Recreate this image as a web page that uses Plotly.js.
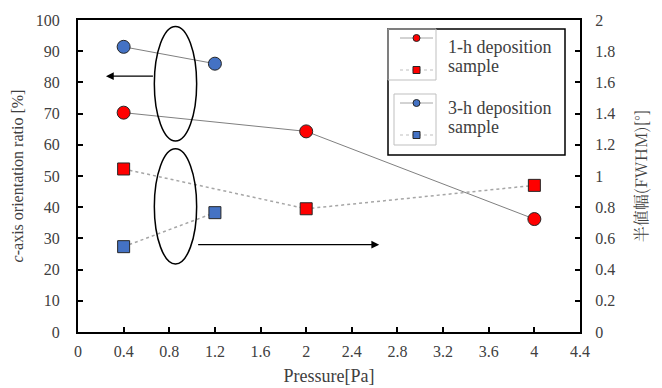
<!DOCTYPE html>
<html><head><meta charset="utf-8">
<script src="https://cdn.plot.ly/plotly-3.0.1.min.js"></script>
<style>html,body{margin:0;padding:0;background:#fff}</style>
</head><body>
<div id="chart" style="width:662px;height:388px"></div>
<script>
// Data
const pressure1h = [0.4, 2, 4];
const ratio1h = [70.3, 64.3, 36.2];
const fwhm1h = [1.045, 0.79, 0.94];
const pressure3h = [0.4, 1.2];
const ratio3h = [91.4, 86];
const fwhm3h = [0.547, 0.765];
const xTicks = [0, 0.4, 0.8, 1.2, 1.6, 2, 2.4, 2.8, 3.2, 3.6, 4, 4.4];
const legendLabels = ['1-h deposition', 'sample', '3-h deposition', 'sample'];

const RED = '#ff0000', BLUE = '#4472c4', EDGE = '#262626';
const FONT = '"Liberation Serif", serif';

const traces = [
  {x: pressure3h, y: ratio3h, xaxis:'x', yaxis:'y', mode:'lines+markers',
   line:{color:'#808080', width:1}, marker:{symbol:'circle', size:13, color:BLUE, line:{color:EDGE, width:1}}},
  {x: pressure1h, y: ratio1h, xaxis:'x', yaxis:'y', mode:'lines+markers',
   line:{color:'#808080', width:1}, marker:{symbol:'circle', size:13, color:RED, line:{color:EDGE, width:1}}},
  {x: pressure1h, y: fwhm1h, xaxis:'x', yaxis:'y2', mode:'lines+markers',
   line:{color:'#a6a6a6', width:1.5, dash:'dot'}, marker:{symbol:'square', size:12, color:RED, line:{color:EDGE, width:1}}},
  {x: pressure3h, y: fwhm3h, xaxis:'x', yaxis:'y2', mode:'lines+markers',
   line:{color:'#a6a6a6', width:1.5, dash:'dot'}, marker:{symbol:'square', size:12, color:BLUE, line:{color:EDGE, width:1}}},
  // legend samples (overlay axes in plot-pixel units)
  {x:[322,355], y:[18,18], xaxis:'x3', yaxis:'y3', mode:'lines', line:{color:'#a6a6a6', width:1}},
  {x:[338.5], y:[18], xaxis:'x3', yaxis:'y3', mode:'markers', marker:{symbol:'circle', size:7, color:RED, line:{color:EDGE, width:1}}},
  {x:[322,355], y:[50,50], xaxis:'x3', yaxis:'y3', mode:'lines', line:{color:'#bfbfbf', width:1, dash:'dot'}},
  {x:[338.5], y:[50], xaxis:'x3', yaxis:'y3', mode:'markers', marker:{symbol:'square', size:7, color:RED, line:{color:EDGE, width:1}}},
  {x:[322,355], y:[83,83], xaxis:'x3', yaxis:'y3', mode:'lines', line:{color:'#a6a6a6', width:1}},
  {x:[338.5], y:[83], xaxis:'x3', yaxis:'y3', mode:'markers', marker:{symbol:'circle', size:7, color:BLUE, line:{color:EDGE, width:1}}},
  {x:[322,355], y:[115,115], xaxis:'x3', yaxis:'y3', mode:'lines', line:{color:'#bfbfbf', width:1, dash:'dot'}},
  {x:[338.5], y:[115], xaxis:'x3', yaxis:'y3', mode:'markers', marker:{symbol:'square', size:7, color:BLUE, line:{color:EDGE, width:1}}}
];

const tickFont = {family: FONT, size: 16, color:'#404040'};
const layout = {
  width:662, height:388,
  margin:{l:78, r:82, t:20, b:56},
  paper_bgcolor:'#fff', plot_bgcolor:'#fff',
  showlegend:false,
  font:{family:FONT, color:'#404040'},
  xaxis:{range:[0,4.4], tickvals:xTicks, ticktext:xTicks.map(String), showgrid:false, zeroline:false,
    showline:true, mirror:true, linecolor:'#000', linewidth:2, ticks:'inside', ticklen:5, tickwidth:2, tickcolor:'#000',
    ticklabelstandoff:4,
    tickfont:tickFont, title:{text:'Pressure[Pa]', font:{family:FONT, size:18, color:'#404040'}, standoff:10}},
  yaxis:{range:[0,100], dtick:10, showgrid:false, zeroline:false, showline:true, linecolor:'#000', linewidth:2,
    ticks:'inside', ticklen:5, tickwidth:2, tickcolor:'#000', tickfont:tickFont, ticklabelstandoff:13,
    title:{text:'<i>c</i>-axis orientation ratio [%]', font:{family:FONT, size:16, color:'#404040'}, standoff:8}},
  yaxis2:{range:[0,2], dtick:0.2, overlaying:'y', side:'right', showgrid:false, zeroline:false, showline:true,
    linecolor:'#000', linewidth:2, ticks:'inside', ticklen:5, tickwidth:2, tickcolor:'#000', tickfont:tickFont,
    ticklabelstandoff:10,
    title:{text:'半値幅(FWHM)[°]', font:{family:'"Noto Serif CJK JP", "Noto Sans CJK JP", serif', size:16, color:'#404040'}, standoff:22}},
  xaxis3:{overlaying:'x', range:[0,502], visible:false, fixedrange:true},
  yaxis3:{overlaying:'y', range:[312,0], visible:false, fixedrange:true},
  shapes:[
    {type:'circle', xref:'x', yref:'y', x0:0.669, x1:1.04, y0:61.2, y1:97.9, line:{color:'#000', width:1.5}},
    {type:'circle', xref:'x', yref:'y', x0:0.669, x1:1.04, y0:21.8, y1:58.7, line:{color:'#000', width:1.5}},
    {type:'rect', xref:'x3', yref:'y3', x0:310, x1:487, y0:9, y1:135, line:{color:'#000', width:1.5}},
    {type:'rect', xref:'x3', yref:'y3', x0:310, x1:358, y0:9, y1:60, line:{color:'#bfbfbf', width:1}},
    {type:'rect', xref:'x3', yref:'y3', x0:316, x1:358, y0:74, y1:125, line:{color:'#bfbfbf', width:1}}
  ],
  annotations:[
    {xref:'x', yref:'y', axref:'x', ayref:'y', x:0.245, y:82, ax:0.67, ay:82, text:'', showarrow:true,
     arrowhead:2, arrowsize:1.3, arrowwidth:1.2, arrowcolor:'#000'},
    {xref:'x', yref:'y', axref:'x', ayref:'y', x:2.64, y:28, ax:1.04, ay:28, text:'', showarrow:true,
     arrowhead:2, arrowsize:1.3, arrowwidth:1.2, arrowcolor:'#000'},
    {xref:'x3', yref:'y3', x:368, y:27, text:legendLabels[0], showarrow:false, xanchor:'left', yanchor:'middle', font:{family:FONT, size:18, color:'#404040'}},
    {xref:'x3', yref:'y3', x:368, y:46, text:legendLabels[1], showarrow:false, xanchor:'left', yanchor:'middle', font:{family:FONT, size:18, color:'#404040'}},
    {xref:'x3', yref:'y3', x:368, y:88, text:legendLabels[2], showarrow:false, xanchor:'left', yanchor:'middle', font:{family:FONT, size:18, color:'#404040'}},
    {xref:'x3', yref:'y3', x:368, y:107, text:legendLabels[3], showarrow:false, xanchor:'left', yanchor:'middle', font:{family:FONT, size:18, color:'#404040'}}
  ]
};
Plotly.newPlot('chart', traces, layout, {displayModeBar:false, staticPlot:true});
</script>
</body></html>
